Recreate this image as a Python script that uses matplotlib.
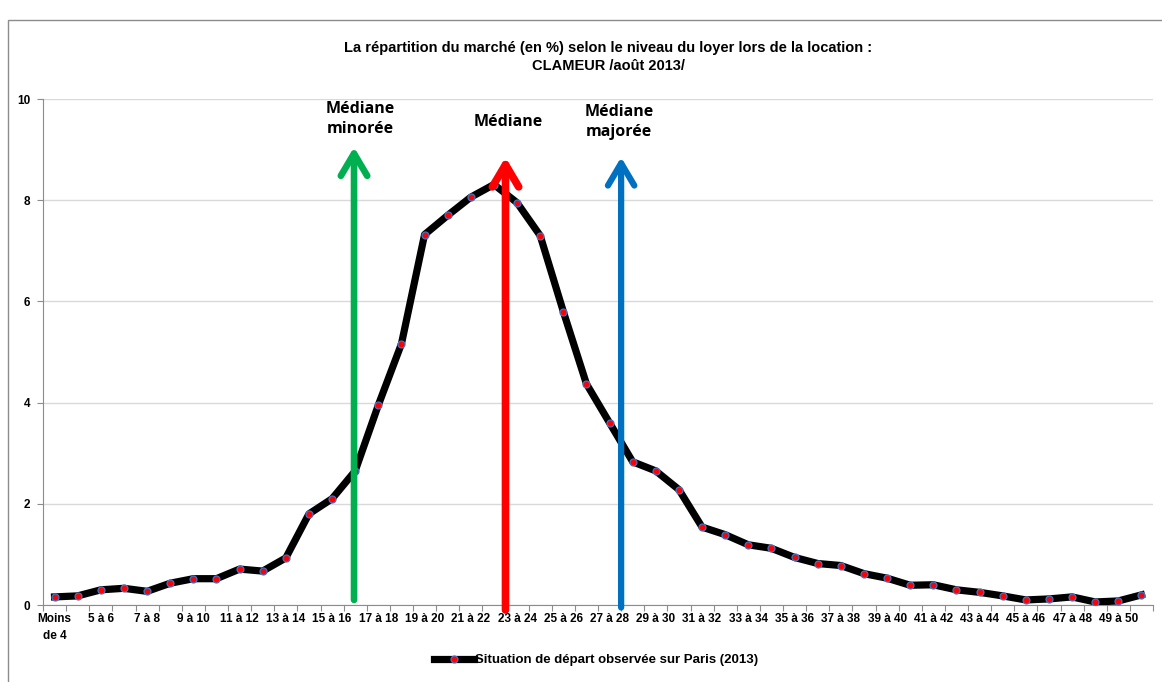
import matplotlib
matplotlib.use("Agg")
import matplotlib.pyplot as plt
from matplotlib.patches import Rectangle

# tranches de loyer (euros/m2) et part du marche (%)
tranches = ["Moins\nde 4"] + ["%d à %d" % (k, k + 1) for k in range(4, 50)] + ["50 et plus"]
parts = [0.16, 0.18, 0.30, 0.33, 0.27, 0.43, 0.52, 0.52, 0.71, 0.67,
         0.93, 1.80, 2.10, 2.65, 3.95, 5.16, 7.32, 7.70, 8.06, 8.31,
         7.95, 7.30, 5.80, 4.37, 3.60, 2.83, 2.65, 2.28, 1.54, 1.39,
         1.19, 1.12, 0.94, 0.82, 0.78, 0.62, 0.53, 0.39, 0.40, 0.30,
         0.25, 0.18, 0.10, 0.12, 0.16, 0.06, 0.08, 0.20]

# position des medianes sur l'axe des tranches
med_noms = ["Médiane\nminorée", "Médiane", "Médiane\nmajorée"]
med_pos = [12.95, 19.5, 24.5]
med_couleurs = ["#00B050", "#FF0000", "#0070C0"]

titre = "La répartition du marché (en %) selon le niveau du loyer lors de la location :\nCLAMEUR /août 2013/"
legende = "Situation de départ observée sur Paris (2013)"

narrow = ["Liberation Sans Narrow", "Liberation Sans", "DejaVu Sans"]
calib = ["Open Sans", "DejaVu Sans"]

fig = plt.figure(figsize=(11.62, 6.82), dpi=100)
fig.patches.append(Rectangle((8 / 1162, -0.1), 1.2, 1 - 20 / 682 + 0.1, transform=fig.transFigure,
                             fill=False, edgecolor="#8c8c8c", linewidth=1))
ax = fig.add_axes([43 / 1162, 1 - 605 / 682, 1110 / 1162, 506 / 682])

x = list(range(len(tranches)))
ax.plot(x, parts, color="black", linewidth=5.2, marker="o", markersize=5,
        markerfacecolor="red", markeredgecolor="#4472C4", markeredgewidth=0.9,
        label=legende, zorder=3)

ax.set_xlim(-0.5, len(tranches) - 0.5)
ax.set_ylim(0, 10)
ax.set_yticks([0, 2, 4, 6, 8, 10])
ax.set_yticklabels(["0", "2", "4", "6", "8", "10"], fontfamily=narrow, fontweight="bold", fontsize=8.5)
ax.yaxis.grid(True, color="#d9d9d9", linewidth=1)
ax.set_axisbelow(True)

# graduations entre les categories, etiquettes une sur deux
ax.set_xticks([i - 0.5 for i in range(len(tranches) + 1)])
ax.set_xticklabels([])
ax.set_xticks(x[::2], minor=True)
ax.set_xticklabels(tranches[::2], minor=True, fontfamily=narrow, fontweight="bold", fontsize=8.5,
                   linespacing=1.5, va="top")
ax.tick_params(axis="x", which="major", length=4, color="#8c8c8c", direction="out")
ax.tick_params(axis="x", which="minor", length=0, pad=6)
ax.tick_params(axis="y", length=4, color="#8c8c8c", pad=5)

for side in ["top", "right"]:
    ax.spines[side].set_visible(False)
ax.spines["left"].set_color("#8c8c8c")
ax.spines["bottom"].set_color("#8c8c8c")

# fleches des medianes
bas = [0.1, -0.1, -0.05]
haut = [9.05, 8.85, 8.85]
larg = [4.8, 5.5, 4.5]
for nom, pos, c, b, h, lw in zip(med_noms, med_pos, med_couleurs, bas, haut, larg):
    ax.annotate("", xy=(pos, h), xytext=(pos, b),
                arrowprops=dict(arrowstyle="->,head_length=1.6,head_width=0.95",
                                color=c, lw=lw, shrinkA=0, shrinkB=0),
                annotation_clip=False, zorder=4)

ax.text(13.2, 9.6, med_noms[0], ha="center", va="center", fontsize=11.5, fontweight="bold",
        fontfamily=calib, linespacing=1.35)
ax.text(19.6, 9.55, med_noms[1], ha="center", va="center", fontsize=11.5, fontweight="bold",
        fontfamily=calib)
ax.text(24.4, 9.55, med_noms[2], ha="center", va="center", fontsize=11.5, fontweight="bold",
        fontfamily=calib, linespacing=1.35)

fig.text(608 / 1162, 1 - 57 / 682, titre, ha="center", va="center", fontsize=10.5,
         fontweight="bold", fontfamily=narrow, linespacing=1.4)

leg = fig.legend(loc="center", bbox_to_anchor=(596 / 1162, 1 - 660 / 682), frameon=False,
                 prop=dict(family=narrow, weight="bold", size=9.5), handlelength=3.0,
                 handletextpad=0.1)

fig.savefig("out.png", dpi=100)
